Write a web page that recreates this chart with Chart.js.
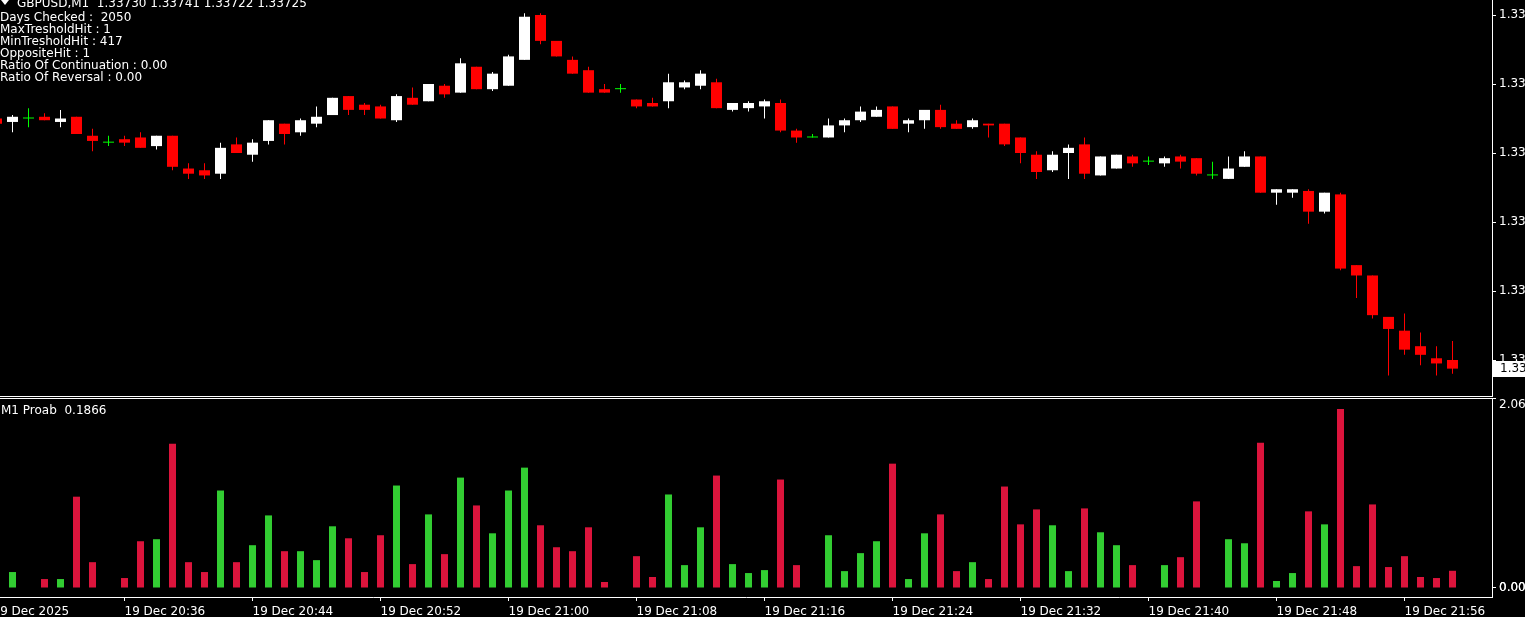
<!DOCTYPE html>
<html>
<head>
<meta charset="utf-8">
<title>GBPUSD M1</title>
<script src="https://cdn.jsdelivr.net/npm/chart.js@4/dist/chart.umd.min.js"></script>
<style>
    html, body { margin: 0; padding: 0; background: #000; overflow: hidden; }
    #wrap { position: relative; width: 1525px; height: 617px; }
    #graficoPreco { position: absolute; left: 0; top: 0; }
    #graficoProb { position: absolute; left: 0; top: 397px; }
</style>
</head>
<body>
<div id="wrap">
    <canvas id="graficoPreco" width="1525" height="397"></canvas>
    <canvas id="graficoProb" width="1525" height="220"></canvas>
</div>
<script>
// ── Dados: GBPUSD M1, 19 Dec 2025, 20:28 → 21:59 ────────────────
const abertura = [
    1.33870, 1.33868, 1.33870, 1.33871, 1.33868, 1.33871, 1.33860, 1.33856, 1.33858, 1.33859,
    1.33854, 1.33860, 1.33841, 1.33840, 1.33838, 1.33855, 1.33849, 1.33857, 1.33867, 1.33862,
    1.33867, 1.33872, 1.33883, 1.33878, 1.33877, 1.33869, 1.33882, 1.33880, 1.33889, 1.33885,
    1.33900, 1.33887, 1.33889, 1.33904, 1.33930, 1.33915, 1.33904, 1.33898, 1.33887, 1.33887,
    1.33881, 1.33879, 1.33880, 1.33888, 1.33889, 1.33891, 1.33875, 1.33876, 1.33877, 1.33879,
    1.33863, 1.33859, 1.33859, 1.33866, 1.33869, 1.33871, 1.33877, 1.33867, 1.33869, 1.33875,
    1.33867, 1.33865, 1.33867, 1.33867, 1.33859, 1.33849, 1.33840, 1.33850, 1.33855, 1.33837,
    1.33841, 1.33848, 1.33845, 1.33844, 1.33848, 1.33847, 1.33837, 1.33835, 1.33842, 1.33848,
    1.33827, 1.33827, 1.33828, 1.33816, 1.33826, 1.33785, 1.33779, 1.33755, 1.33747, 1.33738,
    1.33731, 1.33730
];
const maxima = [
    1.33870, 1.33872, 1.33876, 1.33873, 1.33875, 1.33871, 1.33864, 1.33860, 1.33860, 1.33862,
    1.33860, 1.33860, 1.33844, 1.33844, 1.33856, 1.33859, 1.33858, 1.33869, 1.33867, 1.33870,
    1.33877, 1.33882, 1.33883, 1.33879, 1.33878, 1.33884, 1.33888, 1.33890, 1.33890, 1.33905,
    1.33900, 1.33897, 1.33907, 1.33931, 1.33931, 1.33915, 1.33906, 1.33900, 1.33890, 1.33890,
    1.33881, 1.33882, 1.33896, 1.33892, 1.33898, 1.33893, 1.33879, 1.33880, 1.33881, 1.33881,
    1.33864, 1.33861, 1.33870, 1.33870, 1.33877, 1.33877, 1.33877, 1.33870, 1.33875, 1.33878,
    1.33869, 1.33870, 1.33867, 1.33867, 1.33859, 1.33851, 1.33851, 1.33855, 1.33859, 1.33848,
    1.33849, 1.33849, 1.33848, 1.33848, 1.33849, 1.33847, 1.33845, 1.33848, 1.33851, 1.33848,
    1.33829, 1.33829, 1.33829, 1.33827, 1.33827, 1.33785, 1.33779, 1.33755, 1.33757, 1.33746,
    1.33738, 1.33741
];
const minima = [
    1.33867, 1.33862, 1.33865, 1.33869, 1.33865, 1.33861, 1.33851, 1.33854, 1.33854, 1.33853,
    1.33852, 1.33840, 1.33835, 1.33835, 1.33835, 1.33850, 1.33845, 1.33855, 1.33855, 1.33860,
    1.33865, 1.33872, 1.33872, 1.33872, 1.33870, 1.33868, 1.33878, 1.33880, 1.33882, 1.33885,
    1.33887, 1.33886, 1.33889, 1.33904, 1.33913, 1.33906, 1.33896, 1.33885, 1.33885, 1.33885,
    1.33876, 1.33877, 1.33876, 1.33887, 1.33887, 1.33876, 1.33874, 1.33874, 1.33870, 1.33862,
    1.33856, 1.33859, 1.33859, 1.33862, 1.33868, 1.33871, 1.33864, 1.33862, 1.33864, 1.33864,
    1.33864, 1.33864, 1.33859, 1.33854, 1.33844, 1.33835, 1.33839, 1.33835, 1.33835, 1.33837,
    1.33841, 1.33842, 1.33843, 1.33842, 1.33841, 1.33837, 1.33835, 1.33835, 1.33842, 1.33827,
    1.33820, 1.33824, 1.33809, 1.33815, 1.33782, 1.33766, 1.33754, 1.33721, 1.33733, 1.33727,
    1.33721, 1.33722
];
const fechamento = [
    1.33867, 1.33871, 1.33870, 1.33869, 1.33870, 1.33861, 1.33857, 1.33856, 1.33856, 1.33853,
    1.33860, 1.33842, 1.33838, 1.33837, 1.33853, 1.33850, 1.33856, 1.33869, 1.33861, 1.33869,
    1.33871, 1.33882, 1.33875, 1.33875, 1.33870, 1.33883, 1.33878, 1.33890, 1.33884, 1.33902,
    1.33887, 1.33896, 1.33906, 1.33929, 1.33915, 1.33906, 1.33896, 1.33885, 1.33885, 1.33887,
    1.33877, 1.33877, 1.33891, 1.33891, 1.33896, 1.33876, 1.33879, 1.33879, 1.33880, 1.33863,
    1.33859, 1.33859, 1.33866, 1.33869, 1.33874, 1.33875, 1.33864, 1.33869, 1.33875, 1.33865,
    1.33864, 1.33869, 1.33866, 1.33855, 1.33850, 1.33839, 1.33849, 1.33853, 1.33838, 1.33848,
    1.33849, 1.33844, 1.33845, 1.33847, 1.33845, 1.33838, 1.33837, 1.33841, 1.33848, 1.33827,
    1.33829, 1.33829, 1.33816, 1.33827, 1.33783, 1.33779, 1.33756, 1.33748, 1.33736, 1.33733,
    1.33728, 1.33725
];
// Indicador "M1 Proab" (null = sem barra)
const probabilidade = [
    null, 0.173, null, 0.097, 0.097, 0.990, 0.280, null, 0.108, 0.507,
    0.529, 1.564, 0.280, 0.173, 1.057, 0.280, 0.464, 0.787, 0.399, 0.399,
    0.302, 0.669, 0.539, 0.173, 0.572, 1.111, 0.259, 0.798, 0.367, 1.197,
    0.895, 0.593, 1.057, 1.305, 0.680, 0.442, 0.399, 0.658, 0.065, null,
    0.345, 0.119, 1.014, 0.248, 0.658, 1.219, 0.259, 0.162, 0.194, 1.176,
    0.248, null, 0.572, 0.183, 0.378, 0.507, 1.348, 0.097, 0.593, 0.798,
    0.183, 0.280, 0.097, 1.100, 0.690, 0.852, 0.680, 0.183, 0.863, 0.604,
    0.464, 0.248, null, 0.248, 0.334, 0.939, null, 0.529, 0.485, 1.575,
    0.076, 0.162, 0.831, 0.690, 1.942, 0.237, 0.906, 0.227, 0.345, 0.119,
    0.108, 0.1866
];

// Eixos
const ticksPreco = [1.33730, 1.33770, 1.33810, 1.33850, 1.33890, 1.33930];
const ticksProb = [2.06, 0, 0.0019];
const ticksTempoIdx = [-1.25, 7, 15, 23, 31, 39, 47, 55, 63, 71, 79, 87];
const ticksTempoTxt = ['19 Dec 2025', '19 Dec 20:36', '19 Dec 20:44', '19 Dec 20:52', '19 Dec 21:00',
    '19 Dec 21:08', '19 Dec 21:16', '19 Dec 21:24', '19 Dec 21:32', '19 Dec 21:40', '19 Dec 21:48', '19 Dec 21:56'];

// Textos do painel
const tituloGrafico = 'GBPUSD,M1  1.33730 1.33741 1.33722 1.33725';
const infoLinhas = ['Days Checked :  2050', 'MaxTresholdHit : 1', 'MinTresholdHit : 417',
    'OppositeHit : 1', 'Ratio Of Continuation : 0.00', 'Ratio Of Reversal : 0.00'];
const tituloIndicador = 'M1 Proab  0.1866';

// ── Config geral ────────────────────────────────────────────────
Chart.defaults.font.family = 'DejaVu Sans';
Chart.defaults.font.size = 12;
Chart.defaults.color = '#ffffff';

const indices = abertura.map((_, k) => k - 1);  // 0 = 20:29
const X_MIN = -0.78125, X_MAX = 92.46875;       // 16 px por minuto

const corCandle = abertura.map((o, k) => fechamento[k] > o ? '#ffffff' : (fechamento[k] < o ? '#ff0000' : '#00ff00'));
const corProb = abertura.map((o, k) => fechamento[k] > o ? '#32cd32' : '#dc143c');

function ajustarEixo(largura, altura) {
    return function (s) {
        if (largura !== null) s.width = largura;
        if (altura !== null) s.height = altura;
        s.paddingTop = 0; s.paddingBottom = 0; s.paddingLeft = 0; s.paddingRight = 0;
    };
}

// ── Plugin: textos e bordas do painel principal ─────────────────
const pluginPainelPreco = {
    id: 'painelPreco',
    afterDraw(chart) {
        const ctx = chart.ctx;
        const area = chart.chartArea;
        ctx.save();
        ctx.fillStyle = '#ffffff';
        ctx.fillRect(0, area.bottom, area.right + 1, 1);

        // triângulo + título
        ctx.beginPath();
        ctx.moveTo(1, 0); ctx.lineTo(9, 0); ctx.lineTo(5, 5); ctx.closePath();
        ctx.fill();
        ctx.font = '12px "DejaVu Sans"';
        ctx.textBaseline = 'middle';
        ctx.fillText(tituloGrafico, 17, 4);
        infoLinhas.forEach((t, k) => ctx.fillText(t, 0, 18 + k * 12));

        // etiqueta do preço atual (centrada no fechamento)
        const yFech = chart.scales.y.getPixelForValue(fechamento[fechamento.length - 1]);
        const topo = Math.round(yFech) - 8;
        ctx.fillRect(area.right + 1, topo, 40, 16);
        ctx.fillStyle = '#000000';
        ctx.fillText(fechamento[fechamento.length - 1].toFixed(5), area.right + 8, topo + 8);
        ctx.restore();
    }
};

const pluginPainelProb = {
    id: 'painelProb',
    afterDraw(chart) {
        const ctx = chart.ctx;
        const area = chart.chartArea;
        ctx.save();
        ctx.fillStyle = '#ffffff';
        ctx.fillRect(0, area.top, area.right + 1, 1);
        ctx.font = '12px "DejaVu Sans"';
        ctx.textBaseline = 'middle';
        ctx.fillText(tituloIndicador, 1, area.top + 13);
        ctx.restore();
    }
};

// ── Gráfico: Candles ────────────────────────────────────────────
new Chart(document.getElementById('graficoPreco'), {
    type: 'bar',
    data: {
        datasets: [
            {
                label: 'Corpo',
                data: indices.map((x, k) => ({ x, y: [abertura[k], fechamento[k]] })),
                backgroundColor: corCandle,
                barThickness: 11,
                maxBarThickness: 11,
                minBarLength: 1,
                grouped: false,
                inflateAmount: 0,
                borderWidth: 0
            },
            {
                label: 'Pavio',
                data: indices.map((x, k) => ({ x, y: [minima[k], maxima[k]] })),
                backgroundColor: corCandle,
                barThickness: 1,
                maxBarThickness: 1,
                grouped: false,
                inflateAmount: 0,
                borderWidth: 0
            }
        ]
    },
    options: {
        responsive: false,
        animation: false,
        events: [],
        layout: { padding: { top: 0, left: 0, right: 0, bottom: 1 } },
        plugins: { legend: { display: false }, tooltip: { enabled: false } },
        scales: {
            x: { type: 'linear', min: X_MIN, max: X_MAX, offset: false, grid: { offset: false }, display: false },
            y: {
                position: 'right',
                min: 1.3370913,
                max: 1.3393870,
                afterBuildTicks: s => { s.ticks = ticksPreco.map(v => ({ value: v })); },
                afterFit: ajustarEixo(33, null),
                ticks: { autoSkip: false, padding: 3, color: '#ffffff', callback: v => v.toFixed(5) },
                grid: { drawOnChartArea: false, tickLength: 4, color: '#ffffff' },
                border: { color: '#ffffff' }
            }
        }
    },
    plugins: [pluginPainelPreco]
});

// ── Gráfico: Indicador ──────────────────────────────────────────
new Chart(document.getElementById('graficoProb'), {
    type: 'bar',
    data: {
        datasets: [{
            label: 'M1 Proab',
            data: indices.map((x, k) => ({ x, y: probabilidade[k] })),
            backgroundColor: corProb,
            barThickness: 7,
            maxBarThickness: 7,
            grouped: false,
            inflateAmount: 0,
            borderWidth: 0
        }]
    },
    options: {
        responsive: false,
        animation: false,
        events: [],
        layout: { padding: { top: 1, left: 0, right: 0, bottom: 0 } },
        plugins: { legend: { display: false }, tooltip: { enabled: false } },
        scales: {
            x: {
                type: 'linear',
                min: X_MIN,
                max: X_MAX,
                offset: false,
                afterBuildTicks: s => { s.ticks = ticksTempoIdx.map(v => ({ value: v })); },
                afterFit: ajustarEixo(null, 20),
                ticks: {
                    autoSkip: false, maxRotation: 0, align: 'start', padding: 4, color: '#ffffff',
                    callback: (v, i) => ticksTempoTxt[i]
                },
                grid: { drawOnChartArea: false, offset: false, tickLength: 4, color: '#ffffff' },
                border: { color: '#ffffff' }
            },
            y: {
                position: 'right',
                min: -0.0976,
                max: 2.06,
                afterBuildTicks: s => { s.ticks = ticksProb.map(v => ({ value: v })); },
                afterFit: ajustarEixo(33, null),
                ticks: {
                    autoSkip: false, padding: 3, color: '#ffffff',
                    callback: v => v === 2.06 ? ['', '2.06'] : v.toFixed(v === 0 ? 2 : 4)
                },
                grid: { drawOnChartArea: false, tickLength: 4, color: '#ffffff' },
                border: { color: '#ffffff' }
            }
        }
    },
    plugins: [pluginPainelProb]
});
</script>
</body>
</html>
